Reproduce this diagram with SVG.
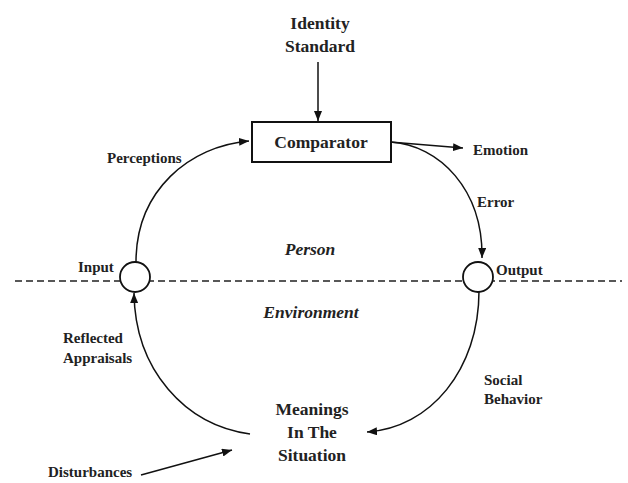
<svg xmlns="http://www.w3.org/2000/svg" width="628" height="483" viewBox="0 0 628 483">
<defs>
<marker id="ah" viewBox="0 0 10 8" refX="10" refY="4" markerWidth="10" markerHeight="8" markerUnits="userSpaceOnUse" orient="auto">
<path d="M0,0 L10,4 L0,8 Z" fill="#111"/>
</marker>
</defs>
<style>
.node{font-family:"Liberation Serif","Times New Roman",serif;font-weight:bold;font-size:17.5px;fill:#222;text-anchor:middle}
.lbl{font-family:"Liberation Serif","Times New Roman",serif;font-weight:bold;font-size:15px;fill:#222}
.ital{font-family:"Liberation Serif","Times New Roman",serif;font-weight:bold;font-style:italic;font-size:17.5px;fill:#222;text-anchor:middle}
.con{fill:none;stroke:#111;stroke-width:1.5}
.circ{fill:#fff;stroke:#111;stroke-width:1.8}
</style>
<rect width="628" height="483" fill="#fff"/>
<line x1="15" y1="281" x2="622" y2="281" stroke="#222" stroke-width="1.5" stroke-dasharray="7,4"/>
<text class="ital" x="310" y="255">Person</text>
<text class="ital" x="311" y="318">Environment</text>
<g id="connectors">
<line class="con" x1="318" y1="62" x2="318" y2="121" marker-end="url(#ah)"/>
<path class="con" d="M136,262 C136,190 190,146 249,141" marker-end="url(#ah)"/>
<path class="con" d="M390,142 C440,145 483,190 482,258" marker-end="url(#ah)"/>
<line class="con" x1="390" y1="142" x2="463" y2="148" marker-end="url(#ah)"/>
<path class="con" d="M479,291 C479,370 430,428 367,432" marker-end="url(#ah)"/>
<path class="con" d="M250,434 C185,425 135,370 134,293" marker-end="url(#ah)"/>
<line class="con" x1="141" y1="475" x2="232" y2="450" marker-end="url(#ah)"/>
</g>
<g id="identity-standard">
<text class="node" x="320" y="29">Identity</text>
<text class="node" x="320" y="52">Standard</text>
</g>
<g id="comparator">
<rect x="252" y="122" width="139" height="40" fill="#fff" stroke="#111" stroke-width="2"/>
<text class="node" x="321" y="148">Comparator</text>
</g>
<g id="input">
<circle class="circ" cx="135" cy="277" r="15"/>
<text class="lbl" x="78" y="272">Input</text>
</g>
<g id="output">
<circle class="circ" cx="478" cy="277" r="15"/>
<text class="lbl" x="496" y="275">Output</text>
</g>
<g id="meanings">
<text class="node" x="312" y="415">Meanings</text>
<text class="node" x="312" y="438">In The</text>
<text class="node" x="312" y="461">Situation</text>
</g>
<g id="labels">
<text class="lbl" x="473" y="155">Emotion</text>
<text class="lbl" x="107" y="163">Perceptions</text>
<text class="lbl" x="477" y="207">Error</text>
<text class="lbl" x="63" y="343">Reflected</text>
<text class="lbl" x="63" y="363">Appraisals</text>
<text class="lbl" x="484" y="385">Social</text>
<text class="lbl" x="484" y="404">Behavior</text>
<text class="lbl" x="48" y="477">Disturbances</text>
</g>
</svg>
